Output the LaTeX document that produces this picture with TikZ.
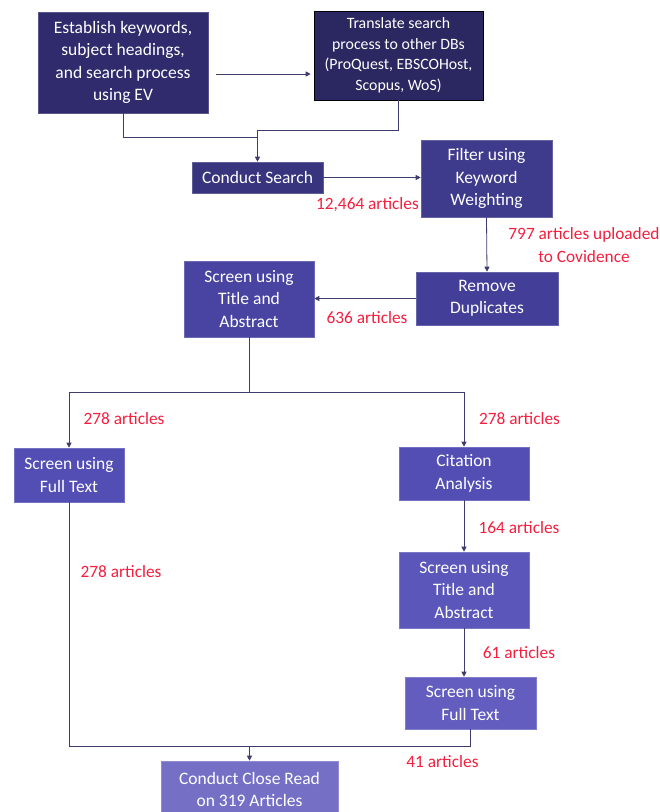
\documentclass[tikz,border=0pt]{standalone}
\usepackage{fontspec}
\setmainfont{Carlito}
\usepackage{xcolor}
\usetikzlibrary{arrows.meta}
\usetikzlibrary{positioning}

\definecolor{boxA}{HTML}{2F2B6D}
\definecolor{boxB}{HTML}{2B2761}
\definecolor{boxC}{HTML}{38347E}
\definecolor{boxD}{HTML}{3E3A8C}
\definecolor{boxE}{HTML}{433E97}
\definecolor{boxF}{HTML}{4944A2}
\definecolor{boxG}{HTML}{534EB3}
\definecolor{boxH}{HTML}{5B56BA}
\definecolor{boxI}{HTML}{625DBF}
\definecolor{boxJ}{HTML}{7570C6}
\definecolor{countred}{HTML}{F41E3E}
\definecolor{linkcol}{HTML}{3E3C6C}

\begin{document}
\begin{tikzpicture}[x=1pt,y=-1pt,
    box/.style={draw=#1!80!white, fill=#1, line width=0.6pt, text=white,
        align=center, inner sep=0pt, font=\fontsize{17.5}{22.5}\selectfont},
    count/.style={text=countred, inner sep=0pt, align=center,
        font=\fontsize{17.3}{23}\selectfont},
    link/.style={draw=linkcol, line width=0.8pt},
    arr/.style={link, -{Triangle[length=5pt,width=5pt]}}]
\useasboundingbox (0,0) rectangle (660,812);
\clip (0,0) rectangle (660,812);

% search stage
\node[box=boxA, minimum width=170pt, minimum height=101pt] (est) at (123,62.5)
      {Establish keywords,\\subject headings,\\and search process\\using EV};
\node[box=boxB, draw=black, minimum width=169pt, minimum height=89pt,
      font=\fontsize{15.8}{20.5}\selectfont] (trans) at (398.5,55.5)
      {Translate search\\process to other DBs\\(ProQuest, EBSCOHost,\\Scopus, WoS)};
\node[box=boxC, minimum width=131pt, minimum height=31pt] (srch) at (257.5,177.5)
      {Conduct Search};
\node[box=boxD, minimum width=131pt, minimum height=77pt] (filt) at (486.5,178.5)
      {Filter using\\Keyword\\Weighting};
\node[box=boxE, minimum width=142pt, minimum height=53pt] (dup) at (487,298.5)
      {Remove\\Duplicates};
\node[box=boxF, minimum width=130pt, minimum height=76pt] (ta1) at (249,299)
      {Screen using\\Title and\\Abstract};

% screening branches
\node[box=boxG, minimum width=110pt, minimum height=54pt] (ft1) at (69,475)
      {Screen using\\Full Text};
\node[box=boxG, minimum width=130pt, minimum height=53pt] (cit) at (464,473.5)
      {Citation\\Analysis};
\node[box=boxH, minimum width=130pt, minimum height=76pt] (ta2) at (464,590)
      {Screen using\\Title and\\Abstract};
\node[box=boxI, minimum width=131pt, minimum height=52pt] (ft2) at (470.5,703)
      {Screen using\\Full Text};
\node[box=boxJ, minimum width=177pt, minimum height=57pt] (close) at (249.5,789.5)
      {Conduct Close Read\\on 319 Articles};

% joins
\coordinate (topjoin) at (257.5,130);
\coordinate (estjoin) at (257.5,137);
\coordinate (split) at (249,392);
\coordinate (merge) at (249.5,746);

\draw[arr, shorten <=8pt, shorten >=3pt] (est.east |- 0,74) -- (trans.west |- 0,74);
\draw[link] (est.south) |- (estjoin);
\draw[arr] (trans.south) |- (topjoin) -- (srch.north);
\draw[arr] (srch.east) -- (srch.east -| filt.west);
\draw[arr] (filt.south) -- (dup.north);
\draw[arr] (dup.west) -- (dup.west -| ta1.east);
\draw[link] (ta1.south) -- (split);
\draw[arr] (split) -| (ft1.north);
\draw[arr] (split) -| (cit.north);
\draw[arr] (cit.south) -- (ta2.north);
\draw[arr] (ta2.south) -- (ta2.south |- ft2.north);
\draw[link] (ft1.south) |- (merge);
\draw[link] (ft2.south) |- (merge);
\draw[arr] (merge) -- (close.north);

% article counts
\node[count, anchor=east] (n1) at (419,205) {12,464 articles};
\node[count] (n2) at (584,245) {797 articles uploaded\\to Covidence};
\node[count] (n3) at (367,318) {636 articles};
\node[count] (n4) at (124,419) {278 articles};
\node[count] (n5) at (519.5,419) {278 articles};
\node[count] (n6) at (519,528) {164 articles};
\node[count] (n7) at (121,572) {278 articles};
\node[count] (n8) at (519,653) {61 articles};
\node[count] (n9) at (442.5,762) {41 articles};
\end{tikzpicture}
\end{document}
